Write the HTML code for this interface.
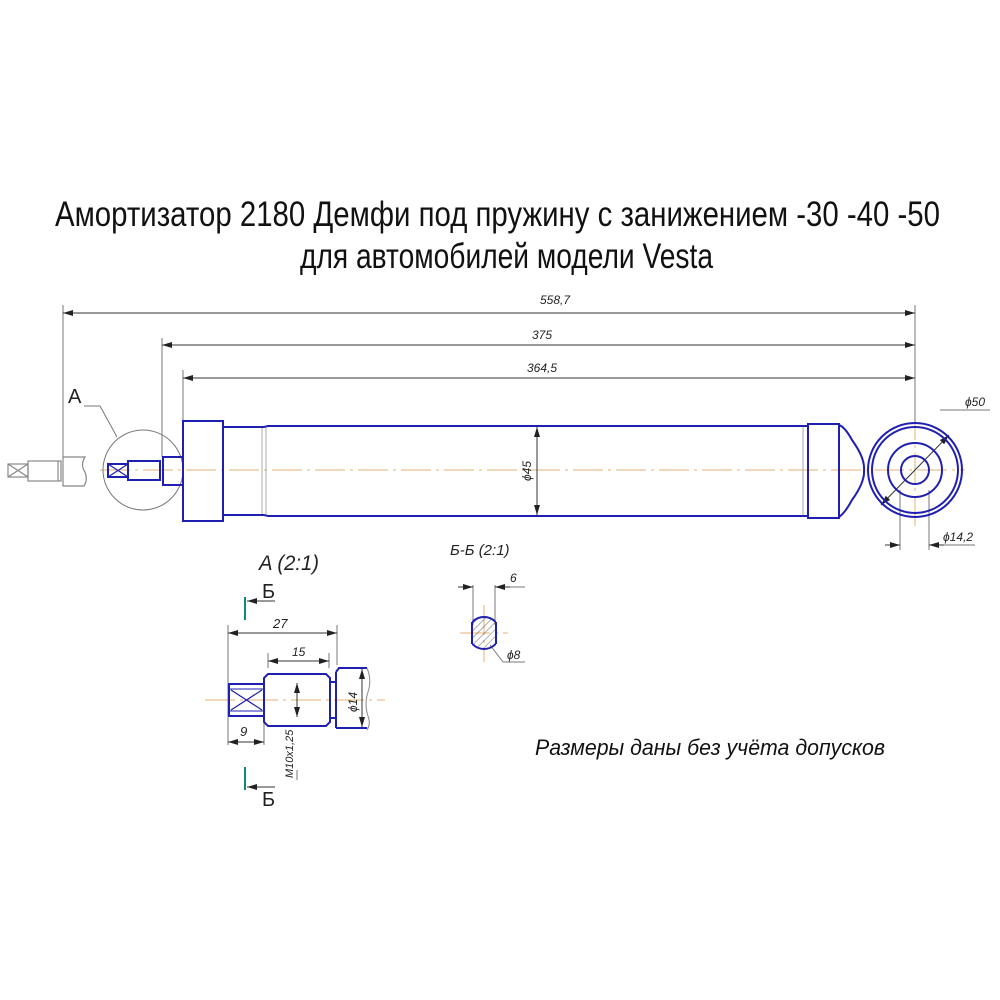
<!DOCTYPE html>
<html><head><meta charset="utf-8"><style>
html,body{margin:0;padding:0;background:#fff}
svg{display:block}
text{font-family:"Liberation Sans","DejaVu Sans",sans-serif;font-weight:300}
</style></head><body>
<svg width="1000" height="1000" viewBox="0 0 1000 1000" xmlns="http://www.w3.org/2000/svg">
<defs>
<marker id="ar" markerWidth="10" markerHeight="6" refX="10" refY="3" orient="auto-start-reverse" markerUnits="userSpaceOnUse"><path d="M0,0 L10,3 L0,6 z" fill="#222"/></marker>
<pattern id="hatch" width="5" height="5" patternUnits="userSpaceOnUse" patternTransform="rotate(45)"><line x1="0" y1="0" x2="0" y2="5" stroke="#444" stroke-width="0.8"/></pattern>
<clipPath id="cl"><rect x="472" y="610" width="24" height="50"/></clipPath>
</defs>
<g fill="#111">
<text x="55" y="226" font-size="35" textLength="885" lengthAdjust="spacingAndGlyphs">Амортизатор 2180 Демфи под пружину с занижением -30 -40 -50</text>
<text x="300" y="268" font-size="35" textLength="413" lengthAdjust="spacingAndGlyphs">для автомобилей модели Vesta</text>
<text x="535" y="755" font-size="22" textLength="350" lengthAdjust="spacingAndGlyphs" font-style="italic">Размеры даны без учёта допусков</text>
</g>
<!-- centerline -->
<g stroke="#e0b070" stroke-width="1" stroke-dasharray="30,5,3,5">
<line x1="100" y1="470" x2="965" y2="470"/>
<line x1="915" y1="410" x2="915" y2="528"/>
<line x1="205" y1="700" x2="385" y2="700"/>
<line x1="460" y1="633" x2="508" y2="633"/>
<line x1="484" y1="605" x2="484" y2="662"/>
</g>
<!-- dimensions -->
<g stroke="#777" stroke-width="1" fill="none">
<line x1="63" y1="305" x2="63" y2="462"/>
<line x1="915" y1="305" x2="915" y2="422"/>
<line x1="162" y1="338" x2="162" y2="457"/>
<line x1="183" y1="370" x2="183" y2="421"/>
<line x1="900" y1="490" x2="900" y2="550"/>
<line x1="929" y1="490" x2="929" y2="550"/>
<line x1="929" y1="545" x2="975" y2="545"/>
<line x1="940" y1="410" x2="990" y2="410"/>
<line x1="84" y1="406" x2="100" y2="406"/>
<line x1="100" y1="406" x2="117" y2="437"/>
<circle cx="143" cy="470" r="40"/>
<line x1="228" y1="625" x2="228" y2="745"/>
<line x1="337" y1="625" x2="337" y2="665"/>
<line x1="268" y1="653" x2="268" y2="668"/>
<line x1="329" y1="653" x2="329" y2="668"/>
<line x1="264" y1="720" x2="264" y2="745"/>
<line x1="297" y1="780" x2="297" y2="770"/>
<line x1="473" y1="585" x2="473" y2="625"/>
<line x1="495" y1="585" x2="495" y2="625"/>
<line x1="495" y1="587" x2="525" y2="587"/>
<line x1="490" y1="645" x2="503" y2="662"/>
<line x1="503" y1="662" x2="525" y2="662"/>
</g>
<g stroke="#333" stroke-width="1" fill="none" marker-start="url(#ar)" marker-end="url(#ar)">
<line x1="63" y1="313" x2="915" y2="313"/>
<line x1="162" y1="345" x2="915" y2="345"/>
<line x1="183" y1="378" x2="915" y2="378"/>
<line x1="537" y1="427" x2="537" y2="515"/>
<line x1="881" y1="505" x2="949" y2="435"/>
<line x1="228" y1="633" x2="337" y2="633"/>
<line x1="268" y1="661" x2="329" y2="661"/>
<line x1="228" y1="742" x2="264" y2="742"/>
<line x1="297" y1="683" x2="297" y2="717"/>
<line x1="362" y1="669" x2="362" y2="727"/>
</g>
<g stroke="#333" stroke-width="1" marker-end="url(#ar)">
<line x1="885" y1="545" x2="900" y2="545"/>
<line x1="944" y1="545" x2="929" y2="545"/>
<line x1="458" y1="587" x2="473" y2="587"/>
<line x1="510" y1="587" x2="495" y2="587"/>
<line x1="275" y1="601" x2="247" y2="601"/>
<line x1="275" y1="787" x2="247" y2="787"/>
</g>
<g fill="#222" font-style="italic" font-size="11">
<text x="540" y="304" font-size="12">558,7</text>
<text x="532" y="339" font-size="12">375</text>
<text x="527" y="372" font-size="12">364,5</text>
<text x="965" y="406" font-size="12">ϕ50</text>
<text x="943" y="541" font-size="12">ϕ14,2</text>
<text transform="translate(531,481) rotate(-90)" font-size="12">ϕ45</text>
<text x="68" y="403" font-size="20" font-style="normal">A</text>
<text x="259" y="570" font-size="21" textLength="60" lengthAdjust="spacingAndGlyphs">A (2:1)</text>
<text x="262" y="598" font-size="20" font-style="normal">Б</text>
<text x="262" y="806" font-size="20" font-style="normal">Б</text>
<text x="273" y="628" font-size="13">27</text>
<text x="292" y="656" font-size="12">15</text>
<text x="240" y="736" font-size="13">9</text>
<text transform="translate(357,712) rotate(-90)" font-size="12">ϕ14</text>
<text transform="translate(293,778) rotate(-90)" font-size="11">M10x1,25</text>
<text x="450" y="555" font-size="15">Б-Б (2:1)</text>
<text x="510" y="582" font-size="12">6</text>
<text x="507" y="659" font-size="12">ϕ8</text>
</g>
<g stroke="#0f8a7a" stroke-width="2">
<line x1="245" y1="597" x2="245" y2="620"/>
<line x1="245" y1="767" x2="245" y2="790"/>
</g>
<!-- left remote piece grey -->
<g stroke="#888" stroke-width="1.2" fill="none">
<rect x="8" y="464" width="20" height="13"/>
<path d="M8,464 L28,477 M8,477 L28,464"/>
<rect x="28" y="461" width="33" height="20"/>
<line x1="58" y1="461" x2="58" y2="481"/>
<path d="M63,457 L85,457 Q80,465 85,472 Q88,480 84,486 L63,486 Z"/>
</g>
<!-- main part blue -->
<g stroke="#2020b0" stroke-width="2" fill="none">
<rect x="183" y="421" width="40" height="100"/>
<path d="M223,427 L264,427 L268,426 L808,426"/>
<path d="M223,515 L264,515 L268,516 L808,516"/>
<rect x="808" y="424" width="31" height="94"/>
<path d="M839,425 Q845,427 852,440 Q865,458 864,470 Q865,482 852,500 Q845,513 839,517"/>
<rect x="163" y="457" width="20" height="28"/>
<rect x="128" y="461" width="32" height="19"/>
<rect x="108" y="464" width="20" height="13"/>
<path d="M108,464 L128,477 M108,477 L128,464" stroke-width="1.2"/>
<circle cx="915" cy="470" r="47"/>
<circle cx="915" cy="470" r="43"/>
<circle cx="915" cy="470" r="27"/>
<circle cx="915" cy="470" r="14"/>
<rect x="229" y="684" width="35" height="32"/>
<path d="M229,689 L264,689 M229,711 L264,711" stroke-width="1"/>
<path d="M231,690 L262,710 M231,710 L262,690" stroke-width="1.2"/>
<path d="M264,678 L268,674 L326,674 L330,678 L330,722 L326,726 L268,726 L264,722 Z"/>
<path d="M330,682 L336,682 M330,718 L336,718 M336,672 L336,728"/>
<path d="M336,672 L339,668 L367,668 M339,728 L367,728 L336,728"/>
<path d="M367,668 Q372,680 368,692 Q364,704 368,716 Q371,724 367,730" stroke="#888" stroke-width="1"/>
</g>
<g stroke="#aaa" stroke-width="1">
<line x1="262" y1="428" x2="262" y2="514"/>
<line x1="266" y1="428" x2="266" y2="514"/>
<line x1="803" y1="427" x2="803" y2="515"/>
</g>
<!-- section -->
<g clip-path="url(#cl)">
<circle cx="484" cy="633" r="16" fill="url(#hatch)" stroke="#2020b0" stroke-width="2"/>
</g>
<line x1="472" y1="622" x2="472" y2="644" stroke="#2020b0" stroke-width="2"/>
<line x1="496" y1="622" x2="496" y2="644" stroke="#2020b0" stroke-width="2"/>
</svg>
</body></html>
